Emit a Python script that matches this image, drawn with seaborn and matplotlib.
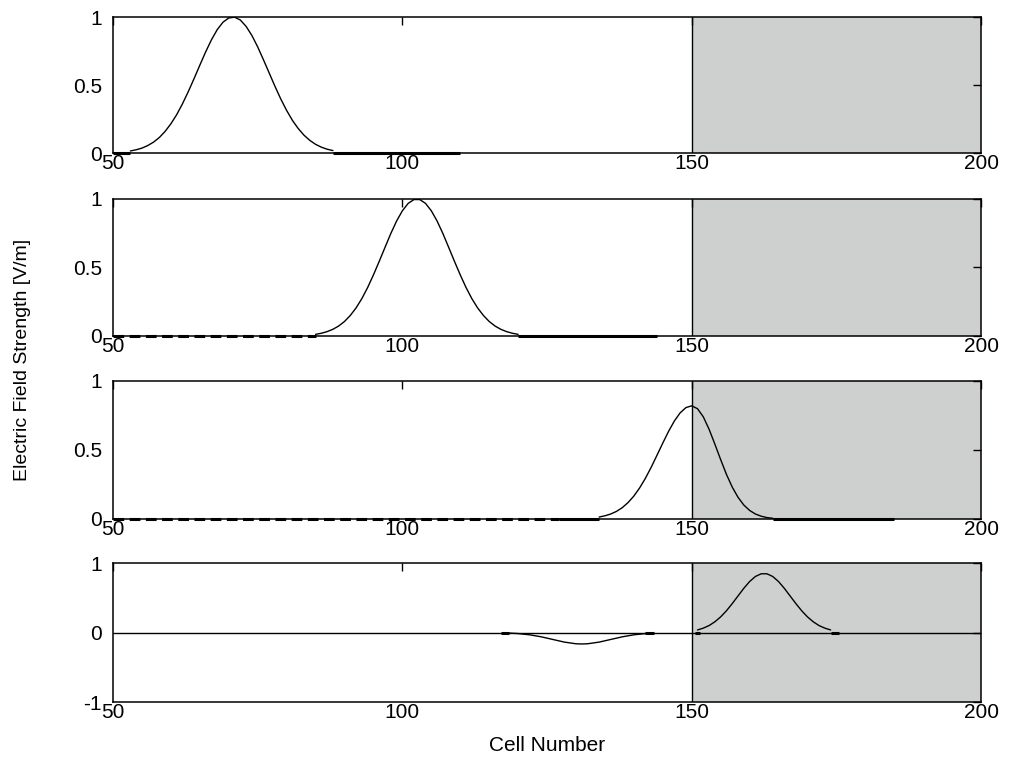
import matplotlib
matplotlib.use('Agg')
import matplotlib.pyplot as plt
import seaborn as sns

# Valores
x_ticks = [50, 100, 150, 200]
region_start, region_end = 150, 200

cells_1 = list(range(53, 89))
field_1 = [0.015, 0.024, 0.036, 0.055, 0.080, 0.114, 0.159, 0.215, 0.282, 0.362,
           0.451, 0.547, 0.646, 0.743, 0.832, 0.907, 0.962, 0.993, 0.999, 0.978,
           0.931, 0.864, 0.780, 0.685, 0.587, 0.489, 0.396, 0.313, 0.240, 0.180,
           0.131, 0.093, 0.064, 0.043, 0.028, 0.018]
flat_1 = [(50, 53), (88, 110)]
dashed_1 = []

cells_2 = list(range(85, 121))
field_2 = [0.012, 0.020, 0.032, 0.049, 0.073, 0.106, 0.150, 0.205, 0.273, 0.354,
           0.446, 0.545, 0.647, 0.748, 0.839, 0.914, 0.968, 0.996, 0.996, 0.968,
           0.914, 0.839, 0.748, 0.647, 0.545, 0.446, 0.354, 0.273, 0.205, 0.150,
           0.106, 0.073, 0.049, 0.032, 0.020, 0.012]
flat_2 = [(120, 144)]
dashed_2 = [(50, 85)]

cells_3 = list(range(134, 165))
field_3 = [0.014, 0.023, 0.036, 0.055, 0.082, 0.119, 0.166, 0.225, 0.295, 0.375,
           0.462, 0.550, 0.635, 0.710, 0.769, 0.807, 0.820, 0.799, 0.740, 0.650,
           0.542, 0.430, 0.323, 0.231, 0.157, 0.101, 0.062, 0.036, 0.020, 0.010,
           0.005]
flat_3 = [(127, 134), (164, 185)]
dashed_3 = [(50, 127)]

cells_4a = [118, 120, 122, 124, 126, 128, 130, 131, 132, 134, 136, 138, 140, 142]
field_4a = [-0.006, -0.015, -0.033, -0.062, -0.1, -0.138, -0.162, -0.165, -0.162,
            -0.138, -0.1, -0.062, -0.033, -0.015]
cells_4b = list(range(151, 175))
field_4b = [0.037, 0.063, 0.100, 0.154, 0.225, 0.313, 0.416, 0.526, 0.636, 0.733,
            0.806, 0.845, 0.845, 0.806, 0.733, 0.636, 0.526, 0.416, 0.313, 0.225,
            0.154, 0.100, 0.063, 0.037]
flat_4 = [(117, 118.5), (142, 143.5), (150.5, 151.5), (174, 175.5)]
dashed_4 = []

panels = [
    ([(cells_1, field_1)], flat_1, dashed_1, (0, 1), [0, 0.5, 1], ['0', '0.5', '1']),
    ([(cells_2, field_2)], flat_2, dashed_2, (0, 1), [0, 0.5, 1], ['0', '0.5', '1']),
    ([(cells_3, field_3)], flat_3, dashed_3, (0, 1), [0, 0.5, 1], ['0', '0.5', '1']),
    ([(cells_4a, field_4a), (cells_4b, field_4b)], flat_4, dashed_4, (-1, 1),
     [-1, 0, 1], ['-1', '0', '1']),
]

sns.set_theme(style='white')
plt.rcParams['font.family'] = ['Liberation Sans', 'DejaVu Sans']

fig = plt.figure(figsize=(10.11, 7.74), dpi=100)
rects = [
    [0.1118, 0.8023, 0.8586, 0.1757],
    [0.1118, 0.5659, 0.8586, 0.1770],
    [0.1118, 0.3295, 0.8586, 0.1783],
    [0.1118, 0.0930, 0.8586, 0.1796],
]

for rect, (curves, flats, dashes, ylim, yt, ytl) in zip(rects, panels):
    ax = fig.add_axes(rect)
    ax.axvspan(region_start, region_end, color='#cdd0ce', zorder=0, lw=0)
    ax.axvline(region_start, color='black', lw=1.0, zorder=2)
    if ylim[0] < 0:
        ax.axhline(0, color='black', lw=1.0, zorder=2)
    for cx, cy in curves:
        sns.lineplot(x=cx, y=cy, color='black', lw=1.0, errorbar=None, ax=ax, zorder=3)
    for a, b in flats:
        ax.plot([a, b], [0, 0], color='black', lw=2.2, zorder=3,
                solid_capstyle='butt', clip_on=False)
    for a, b in dashes:
        ax.plot([a, b], [0, 0], color='black', lw=2.2, zorder=3,
                dashes=(3.5, 1.8), clip_on=False)
    ax.set_xlim(50, 200)
    ax.set_ylim(*ylim)
    ax.set_xticks(x_ticks)
    ax.set_xticklabels([str(t) for t in x_ticks])
    ax.set_yticks(yt)
    ax.set_yticklabels(ytl)
    ax.set_xlabel('')
    ax.set_ylabel('')
    ax.tick_params(direction='in', top=True, right=True, length=6, width=1,
                   labelsize=15, colors='black')
    ax.tick_params(axis='x', pad=1)
    ax.tick_params(axis='y', pad=8)
    for s in ax.spines.values():
        s.set_color('black')
        s.set_linewidth(1.1)

fig.text(0.022, 0.535, 'Electric Field Strength [V/m]', rotation=90,
         ha='center', va='center', fontsize=14, color='black')
fig.text(0.541, 0.037, 'Cell Number', ha='center', va='center', fontsize=15,
         color='black')

fig.savefig('out.png', dpi=100)
